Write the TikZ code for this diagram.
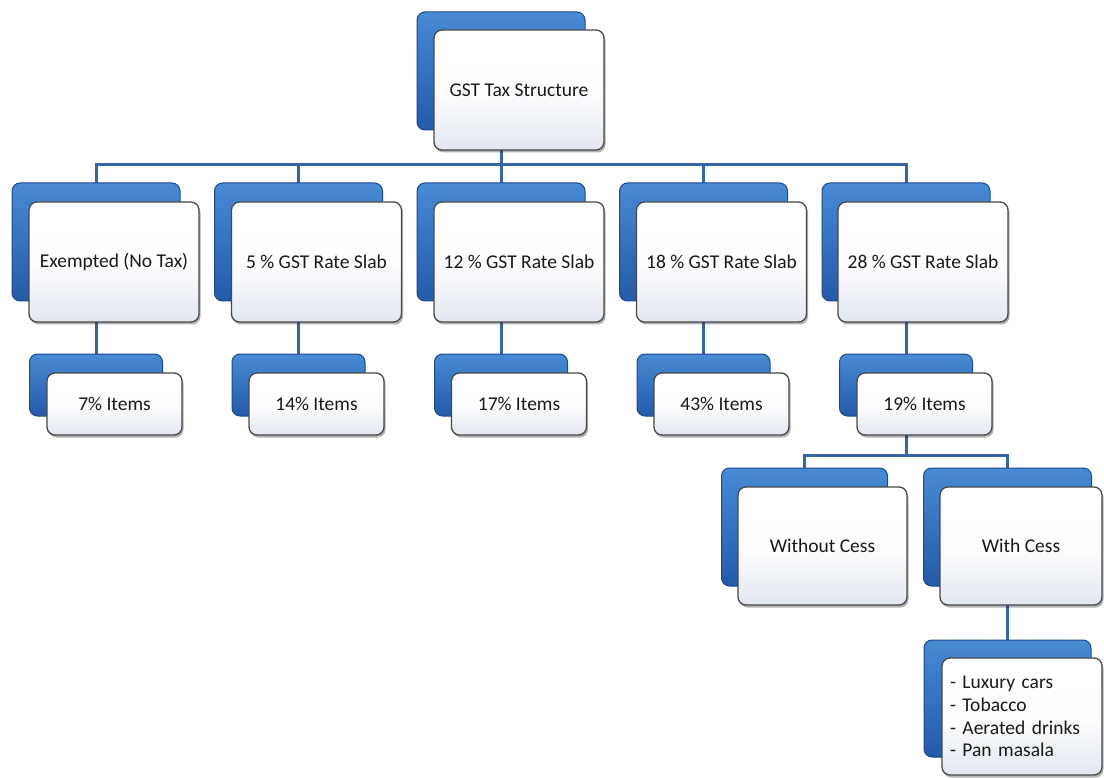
\documentclass[tikz,border=0pt]{standalone}
\usepackage{fontspec}
\setmainfont{Carlito}
\usetikzlibrary{shadows}
\pgfdeclarelayer{background}
\pgfdeclarelayer{canvas}
\pgfsetlayers{canvas,background,main}
\definecolor{bluetop}{RGB}{72,138,212}
\definecolor{bluebot}{RGB}{36,90,168}
\definecolor{blueedge}{RGB}{30,72,140}
\definecolor{conncol}{RGB}{55,100,165}
\definecolor{frontedge}{RGB}{72,72,72}
\definecolor{frontbot}{RGB}{226,231,240}
\tikzset{
  backbox/.style={draw=blueedge, line width=1pt, rounded corners=8pt,
    top color=bluetop, bottom color=bluebot, inner sep=0pt},
  frontbox/.style={draw=frontedge, line width=1.3pt, rounded corners=8pt,
    top color=white, bottom color=frontbot, middle color=white!96!frontbot,
    drop shadow={shadow xshift=1.5pt, shadow yshift=-2.5pt, opacity=0.3, fill=black},
    font=\fontsize{19.5}{22.7}\selectfont, align=center, inner sep=0pt, text=black!90},
  bigback/.style={minimum width=168pt, minimum height=118pt},
  bigfront/.style={minimum width=170pt, minimum height=120pt},
  smallback/.style={minimum width=133pt, minimum height=62pt},
  smallfront/.style={minimum width=135pt, minimum height=62pt},
  conn/.style={draw=conncol, line width=3pt},
}
\begin{document}
\begin{tikzpicture}[x=1pt, y=-1pt]
\begin{pgfonlayer}{canvas}
\fill[white] (0,0) rectangle (1104,778);
\end{pgfonlayer}
\useasboundingbox (0,0) rectangle (1104,778);
\coordinate (bus1) at (0,165);
\coordinate (bus2) at (0,455);

% top
\node[backbox, bigback] (topb) at (501,71) {};
\node[frontbox, bigfront] (top) at (519,90) {GST Tax Structure};

% level 2
\node[backbox, bigback] (c1b) at (96,242) {};
\node[frontbox, bigfront] (c1) at (114,262) {Exempted (No Tax)};
\node[backbox, bigback] (c2b) at (298.5,242) {};
\node[frontbox, bigfront] (c2) at (316.5,262) {5 \% GST Rate Slab};
\node[backbox, bigback] (c3b) at (501,242) {};
\node[frontbox, bigfront] (c3) at (519,262) {12 \% GST Rate Slab};
\node[backbox, bigback] (c4b) at (703.5,242) {};
\node[frontbox, bigfront] (c4) at (721.5,262) {18 \% GST Rate Slab};
\node[backbox, bigback] (c5b) at (906,242) {};
\node[frontbox, bigfront] (c5) at (923,262) {28 \% GST Rate Slab};

% level 3
\node[backbox, smallback] (i1b) at (96,385) {};
\node[frontbox, smallfront] (i1) at (114.5,404) {7\% Items};
\node[backbox, smallback] (i2b) at (298.5,385) {};
\node[frontbox, smallfront] (i2) at (316.5,404) {14\% Items};
\node[backbox, smallback] (i3b) at (501,385) {};
\node[frontbox, smallfront] (i3) at (519,404) {17\% Items};
\node[backbox, smallback] (i4b) at (703.5,385) {};
\node[frontbox, smallfront] (i4) at (721.5,404) {43\% Items};
\node[backbox, smallback] (i5b) at (906,385) {};
\node[frontbox, smallfront] (i5) at (924.5,404) {19\% Items};

% level 4
\node[backbox, minimum width=166pt, minimum height=118pt] (wob) at (804.5,527) {};
\node[frontbox, minimum width=169pt, minimum height=118pt] (wo) at (822.5,546) {Without Cess};
\node[backbox, minimum width=168pt, minimum height=118pt] (wcb) at (1007.5,527) {};
\node[frontbox, minimum width=162pt, minimum height=118pt] (wc) at (1021,546) {With Cess};

% level 5
\node[backbox, minimum width=167pt, minimum height=117pt] (lib) at (1007.5,698.5) {};
\node[frontbox, minimum width=160pt, minimum height=117pt, align=left,
      text width=144pt, inner xsep=8pt] (li) at (1022,716.5)
  {- Luxury cars\\- Tobacco\\- Aerated drinks\\- Pan masala};

% connectors
\begin{pgfonlayer}{background}
  \foreach \c in {c1b,c2b,c3b,c4b,c5b}
    \draw[conn] (topb.center) -- (topb.center |- bus1) -| (\c.center);
  \draw[conn] (c1b.center) -- (i1b.center);
  \draw[conn] (c2b.center) -- (i2b.center);
  \draw[conn] (c3b.center) -- (i3b.center);
  \draw[conn] (c4b.center) -- (i4b.center);
  \draw[conn] (c5b.center) -- (i5b.center);
  \foreach \c in {wob,wcb}
    \draw[conn] (i5b.center) -- (i5b.center |- bus2) -| (\c.center);
  \draw[conn] (wcb.center) -- (lib.center);
\end{pgfonlayer}
\end{tikzpicture}
\end{document}
